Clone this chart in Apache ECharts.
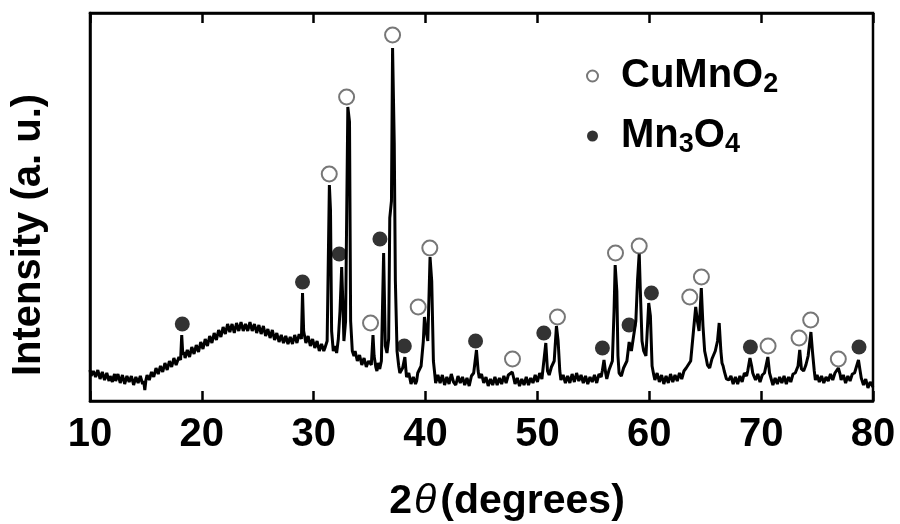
<!DOCTYPE html>
<html>
<head>
<meta charset="utf-8">
<title>XRD CuMnO2 / Mn3O4</title>
<script src="https://cdn.jsdelivr.net/npm/echarts@6/dist/echarts.min.js"></script>
<style>
  html, body { margin: 0; padding: 0; background: #fff; }
  #chart { width: 900px; height: 524px; }
</style>
</head>
<body>
<div id="chart"></div>
<script>
// x range of the scan (2theta, degrees)
var xMin = 10, xMax = 80, xStep = 10;

var pattern = [
  [10.0,31],[10.1,25],[10.2,23],[10.3,30],[10.4,32],[10.5,24],[10.6,26],[10.7,31],[10.8,29],[10.9,22],[11.0,23],
  [11.1,29],[11.2,28],[11.3,21],[11.4,22],[11.5,28],[11.6,27],[11.7,20],[11.8,25],[11.9,26],[12.0,19],
  [12.1,24],[12.2,27],[12.3,20],[12.4,21],[12.5,27],[12.6,25],[12.7,18],[12.8,19],[12.9,26],[13.0,24],
  [13.1,17],[13.2,18],[13.3,25],[13.4,26],[13.5,19],[13.6,20],[13.7,25],[13.8,23],[13.9,16],[14.0,17],
  [14.1,24],[14.2,23],[14.3,18],[14.4,19],[14.5,25],[14.6,24],[14.7,17],[14.8,20],[14.9,11],[15.0,21],
  [15.1,26],[15.2,27],[15.3,21],[15.4,22],[15.5,29],[15.6,30],[15.7,24],[15.8,26],[15.9,33],[16.0,32],
  [16.1,27],[16.2,28],[16.3,35],[16.4,34],[16.5,29],[16.6,31],[16.7,38],[16.8,37],[16.9,31],[17.0,33],
  [17.1,40],[17.2,39],[17.3,34],[17.4,35],[17.5,43],[17.6,42],[17.7,36],[17.8,38],[17.95,44],[18.1,41],
  [18.2,66],[18.3,46],
  [18.4,49],[18.5,43],[18.6,42],[18.7,51],[18.8,50],[18.9,44],[19.0,46],
  [19.1,54],[19.2,53],[19.3,47],[19.4,49],[19.5,56],[19.6,55],[19.7,49],[19.8,51],[19.9,59],[20.0,58],
  [20.1,52],[20.2,54],[20.3,62],[20.4,61],[20.5,55],[20.6,57],[20.7,65],[20.8,64],[20.9,58],[21.0,60],
  [21.1,68],[21.2,67],[21.3,61],[21.4,63],[21.5,71],[21.6,70],[21.7,64],[21.8,66],[21.9,74],[22.0,73],
  [22.1,67],[22.2,68],[22.3,77],[22.4,76],[22.5,69],[22.6,71],[22.7,77],[22.8,75],[22.9,68],[23.0,70],
  [23.1,78],[23.2,77],[23.3,70],[23.4,72],[23.5,79],[23.6,78],[23.7,70],[23.8,71],[23.9,77],[24.0,76],
  [24.1,70],[24.2,72],[24.3,79],[24.4,78],[24.5,70],[24.6,71],[24.7,77],[24.8,75],[24.9,68],[25.0,70],
  [25.1,76],[25.2,74],[25.3,67],[25.4,69],[25.5,75],[25.6,73],[25.7,65],[25.8,66],[25.9,72],[26.0,71],
  [26.1,63],[26.2,65],[26.3,71],[26.4,69],[26.5,61],[26.6,62],[26.7,68],[26.8,67],[26.9,59],[27.0,61],
  [27.1,66],[27.2,65],[27.3,58],[27.4,60],[27.5,65],[27.6,64],[27.7,57],[27.8,58],[27.9,64],[28.0,63],
  [28.1,57],[28.2,59],[28.3,66],[28.4,65],[28.5,58],[28.6,60],[28.7,67],[28.8,66],[28.9,62],
  [29.0,108],[29.1,70],
  [29.2,64],[29.3,58],[29.4,60],[29.5,65],[29.6,63],[29.7,55],[29.8,57],[29.9,62],[30.0,61],
  [30.1,53],[30.2,55],[30.3,60],[30.4,59],[30.5,50],[30.6,52],[30.7,57],[30.8,56],[30.9,50],[31.0,53],
  [31.2,60],[31.4,216],[31.5,191],[31.6,70],[31.75,50],[31.9,55],
  [32.05,48],[32.2,62],[32.35,90],[32.5,134],[32.6,100],[32.7,60],
  [32.85,80],[33.05,294],[33.2,279],[33.3,80],[33.45,50],
  [33.6,45],[33.7,50],[33.8,48],[33.9,40],[34.0,41],[34.1,46],[34.2,44],[34.3,36],[34.4,38],[34.5,43],
  [34.6,42],[34.7,34],[34.8,35],[34.9,40],[35.0,39],
  [35.15,36],[35.3,66],[35.4,45],[35.55,34],[35.65,30],[35.75,38],[35.9,32],[36.05,40],
  [36.25,148],[36.4,55],[36.55,48],[36.7,62],[36.8,183],[36.95,200],
  [37.05,353],[37.2,258],[37.3,120],[37.45,50],
  [37.6,35],[37.7,28],[37.8,30],[37.95,33],
  [38.15,44],[38.25,30],[38.3,24],[38.4,22],[38.5,28],[38.6,26],[38.7,17],[38.8,18],[38.9,24],[39.0,23],
  [39.1,17],[39.2,20],[39.3,28],[39.4,27],
  [39.6,35],[39.8,60],[39.9,84],[40.05,70],[40.2,60],[40.4,144],[40.55,120],[40.7,40],[40.85,24],
  [40.9,18],[41.0,19],[41.1,26],[41.2,25],[41.3,18],[41.4,20],[41.5,26],[41.6,24],[41.7,16],[41.8,18],
  [41.9,24],[42.0,23],[42.1,17],[42.2,19],[42.3,27],[42.4,26],[42.5,19],[42.6,21],[42.7,16],[42.8,17],
  [42.9,25],[43.0,24],[43.1,18],[43.2,20],[43.3,24],[43.4,23],[43.5,16],[43.6,18],[43.7,23],[43.8,22],
  [43.9,15],[44.0,17],[44.1,25],[44.2,24],[44.3,28],[44.4,30],
  [44.55,51],[44.7,30],[44.8,23],[44.9,22],[45.0,27],[45.1,26],[45.2,18],[45.3,19],[45.4,24],[45.5,23],
  [45.6,15],[45.7,16],[45.8,22],[45.9,21],[46.0,16],[46.1,18],[46.2,24],[46.3,23],[46.4,16],[46.5,17],
  [46.6,23],[46.7,22],[46.8,17],[46.9,19],[47.0,25],[47.1,24],[47.2,18],[47.3,20],[47.4,26],[47.5,25],
  [47.75,29],[47.9,22],[48.0,17],[48.1,18],[48.2,23],[48.3,22],[48.4,15],[48.5,16],[48.6,22],[48.7,21],
  [48.8,16],[48.9,18],[49.0,24],[49.1,23],[49.2,16],[49.3,17],[49.4,23],[49.5,22],[49.6,18],[49.7,20],
  [49.8,26],[49.9,25],[50.0,19],[50.1,21],[50.2,28],[50.3,27],[50.4,22],[50.5,24],
  [50.75,58],[50.9,30],[51.05,26],[51.25,34],
  [51.5,40],[51.7,75],[51.85,60],[52.0,30],[52.1,21],[52.2,22],[52.3,26],[52.4,25],[52.5,18],[52.6,19],
  [52.7,25],[52.8,24],[52.9,18],[53.0,20],[53.1,27],[53.2,26],[53.3,19],[53.4,21],[53.5,28],[53.6,27],
  [53.7,20],[53.8,22],[53.9,26],[54.0,25],[54.1,18],[54.2,20],[54.3,25],[54.4,24],[54.5,17],[54.6,19],
  [54.7,24],[54.8,23],[54.9,19],[55.0,21],[55.1,26],[55.2,25],[55.3,18],[55.4,20],[55.5,27],[55.6,26],
  [55.7,24],[55.8,30],
  [55.95,41],[56.1,28],[56.2,22],[56.3,24],[56.4,31],[56.5,30],
  [56.7,40],[56.85,90],[56.95,136],[57.1,110],[57.2,45],[57.3,28],[57.4,30],[57.5,25],[57.6,26],[57.7,33],[57.8,32],
  [58.0,40],[58.2,59],[58.4,50],[58.6,65],[58.8,80],[58.95,121],[59.1,148],[59.2,110],
  [59.35,60],[59.5,50],[59.7,45],[59.95,98],[60.1,85],[60.25,35],[60.4,26],[60.5,21],[60.6,22],
  [60.7,28],[60.8,27],[60.9,19],[61.0,21],[61.1,26],[61.2,25],[61.3,17],[61.4,19],[61.5,25],[61.6,24],
  [61.7,18],[61.8,20],[61.9,27],[62.0,26],[62.1,19],[62.2,21],[62.3,26],[62.4,25],[62.5,20],[62.6,22],
  [62.7,28],[62.8,27],[62.9,22],[63.0,24],[63.1,30],[63.2,29],[63.3,33],[63.45,35],
  [63.7,40],[63.95,70],[64.15,94],[64.3,80],[64.45,70],[64.65,113],[64.8,75],[64.95,50],
  [65.1,42],[65.2,36],[65.3,38],[65.4,33],[65.5,34],[65.6,42],[65.7,40],[65.9,50],
  [66.1,60],[66.25,78],[66.4,50],[66.5,38],[66.6,35],[66.7,30],[66.8,28],[66.9,22],[67.0,24],
  [67.1,21],[67.2,20],[67.3,25],[67.4,24],[67.5,17],[67.6,18],[67.7,24],[67.8,23],[67.9,17],[68.0,19],
  [68.1,25],[68.2,24],[68.3,19],[68.4,21],[68.5,28],[68.6,27],[68.7,25],[68.8,30],
  [69.0,43],[69.15,35],[69.25,28],[69.35,25],[69.5,21],[69.6,22],[69.7,27],[69.8,26],[69.9,19],[70.0,20],
  [70.1,26],[70.2,25],[70.3,28],[70.4,30],
  [70.6,44],[70.75,28],[70.85,24],[70.95,22],[71.05,16],[71.15,17],[71.25,23],[71.35,22],[71.45,17],[71.55,18],
  [71.65,24],[71.75,23],[71.85,18],[71.95,19],[72.05,25],[72.15,24],[72.25,17],[72.35,18],[72.45,24],[72.55,23],
  [72.65,19],[72.75,20],[72.85,27],[72.95,26],[73.05,28],[73.15,30],
  [73.3,35],[73.45,51],[73.6,32],[73.8,30],[74.0,36],[74.2,45],[74.45,69],[74.6,48],
  [74.75,30],[74.85,21],[74.9,22],[75.0,26],[75.1,25],[75.2,19],[75.3,20],[75.4,25],[75.5,24],[75.6,18],
  [75.7,19],[75.8,24],[75.9,23],[76.0,20],[76.1,21],[76.2,27],[76.3,26],[76.4,21],[76.5,22],[76.6,28],[76.7,27],
  [76.9,33],[77.05,27],[77.15,21],[77.25,22],[77.35,26],[77.45,25],[77.55,18],[77.65,19],[77.75,25],[77.85,24],
  [77.95,20],[78.05,21],[78.15,27],[78.25,26],[78.35,28],[78.45,30],
  [78.7,41],[78.85,30],[78.95,23],[79.05,22],[79.15,16],[79.25,17],[79.35,22],[79.45,21],[79.55,13],[79.65,14],
  [79.75,19],[79.85,18],[80.0,14]
];

// phase markers drawn above the peaks
var cuMnO2Marks = [
  [31.39,227],[32.94,304],[35.08,78],[37.05,366],[39.34,94],[40.38,153],
  [47.77,42],[51.79,84],[56.98,148],[59.1,155],[63.62,104],[64.66,124],
  [70.62,55],[73.39,63],[74.43,81],[76.9,42]
];
var mn3O4Marks = [
  [18.25,77],[29.0,119],[32.28,147],[35.92,162],[38.1,55],[44.47,60],
  [50.57,68],[55.81,53],[58.19,76],[60.19,108],[69.04,54],[78.75,54]
];

var font = '"Liberation Sans", Arial, sans-serif';
var chart = echarts.init(document.getElementById('chart'));

var option = {
  animation: false,
  backgroundColor: '#fff',
  grid: {
    left: 90, right: 27, top: 13, bottom: 123,
    show: true, borderColor: '#000', borderWidth: 2.5
  },
  legend: {
    orient: 'vertical',
    left: 581, top: 51,
    itemGap: 18,
    itemWidth: 11, itemHeight: 11,
    data: ['CuMnO2', 'Mn3O4'],
    formatter: function (name) {
      return name === 'CuMnO2' ? '{m|CuMnO}{s|2}' : '{m|Mn}{s|3}{m|O}{s|4}';
    },
    textStyle: {
      rich: {
        m: { fontFamily: font, fontWeight: 'bold', fontSize: 40, color: '#000' },
        s: { fontFamily: font, fontWeight: 'bold', fontSize: 27, color: '#000', padding: [17, 0, 0, 0] }
      },
      padding: [0, 0, 0, 18]
    }
  },
  xAxis: [{
    type: 'value',
    min: xMin, max: xMax, interval: xStep,
    axisLine: { show: true, lineStyle: { color: '#000', width: 2.5 } },
    axisTick: { show: true, inside: true, length: 10, lineStyle: { color: '#000', width: 2.5 } },
    axisLabel: { color: '#000', fontFamily: font, fontWeight: 'bold', fontSize: 40, margin: 14 },
    splitLine: { show: false }
  }, {
    type: 'value', position: 'top',
    min: xMin, max: xMax, interval: xStep,
    axisLine: { show: true, lineStyle: { color: '#000', width: 2.5 } },
    axisTick: { show: true, inside: true, length: 10, lineStyle: { color: '#000', width: 2.5 } },
    axisLabel: { show: false },
    splitLine: { show: false }
  }],
  yAxis: {
    type: 'value',
    min: 0, max: 388,
    axisLine: { show: true, lineStyle: { color: '#000', width: 2.5 } },
    axisTick: { show: false },
    axisLabel: { show: false },
    splitLine: { show: false }
  },
  graphic: [{
    type: 'text',
    x: 29, y: 235,
    rotation: Math.PI / 2,
    style: {
      text: 'Intensity (a. u.)',
      fontFamily: font, fontWeight: 'bold', fontSize: 40,
      fill: '#000', align: 'center', verticalAlign: 'middle'
    }
  }, {
    type: 'text',
    x: 507, y: 502,
    style: {
      text: '{b|2}{t|θ}{b|(degrees)}',
      align: 'center', verticalAlign: 'middle',
      rich: {
        b: { fontFamily: font, fontWeight: 'bold', fontSize: 41, fill: '#000' },
        t: { fontFamily: font, fontStyle: 'italic', fontSize: 41, fill: '#000', padding: [0, 4, 0, 2] }
      }
    }
  }],
  series: [{
    name: 'pattern',
    type: 'line',
    data: pattern,
    showSymbol: false,
    lineStyle: { color: '#000', width: 3 },
    z: 2
  }, {
    name: 'CuMnO2',
    type: 'scatter',
    data: cuMnO2Marks,
    symbol: 'circle',
    symbolSize: 15,
    itemStyle: { color: '#fff', borderColor: '#555', borderWidth: 2 },
    z: 3
  }, {
    name: 'Mn3O4',
    type: 'scatter',
    data: mn3O4Marks,
    symbol: 'circle',
    symbolSize: 15,
    itemStyle: { color: '#000' },
    z: 3
  }]
};

chart.setOption(option);
</script>
</body>
</html>
